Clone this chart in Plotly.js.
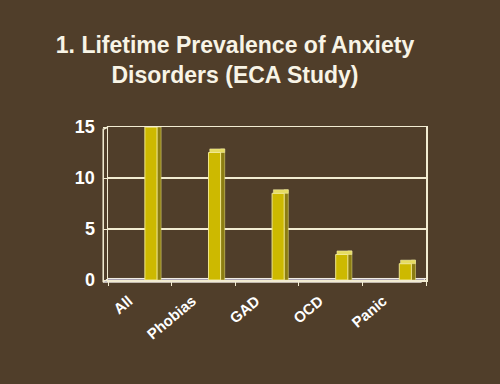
<!DOCTYPE html>
<html>
<head>
<meta charset="utf-8">
<script src="https://cdn.plot.ly/plotly-3.0.1.min.js"></script>
<style>html,body{margin:0;padding:0;background:#503e2a;}#chart{width:500px;height:384px;}</style>
</head>
<body>
<div id="chart"></div>
<script>
const categories = ["All", "Phobias", "GAD", "OCD", "Panic"];
const prevalence = [15.0, 12.5, 8.5, 2.5, 1.6];
const yTicks = [0, 5, 10, 15];

const FONT = "Liberation Sans, Arial, sans-serif";
const CREAM = "#f2ecd2";
const depth = categories.map(() => 0.35);

const frontFace = {
  type: "bar", x: categories, y: prevalence,
  offset: 0.08, width: 0.19,
  marker: {color: "#cdb900", line: {color: "#efe68a", width: 1}},
  hoverinfo: "x+y"
};
const sideFace = {
  type: "bar", x: categories, y: prevalence.map(v => v + 0.35),
  offset: 0.27, width: 0.065,
  marker: {color: "#8c7d12", line: {color: "#efe68a", width: 0.5}},
  hoverinfo: "skip"
};
const topFace = {
  type: "bar", x: categories, y: depth, base: prevalence,
  offset: 0.1, width: 0.235,
  marker: {color: "#e6dc62", line: {color: "#f4eeb0", width: 0.5}},
  hoverinfo: "skip"
};

const layout = {
  width: 500, height: 384,
  paper_bgcolor: "#503e2a", plot_bgcolor: "#503e2a",
  margin: {l: 108, r: 74, t: 127, b: 104},
  showlegend: false, barmode: "overlay",
  font: {family: FONT, color: "#ffffff"},
  title: {
    text: "1. Lifetime Prevalence of Anxiety<br>Disorders (ECA Study)",
    font: {family: FONT, size: 23, color: "#f8f4e6", weight: "bold"},
    xref: "container", x: 0.47, xanchor: "center",
    yref: "container", y: 0.862, yanchor: "top"
  },
  xaxis: {
    type: "category", range: [-0.5, 4.5],
    showgrid: false, showline: true, mirror: true, linecolor: CREAM, linewidth: 1.5,
    ticks: "outside", tickson: "boundaries", ticklen: 4, tickcolor: CREAM,
    tickangle: -40, ticklabelshift: -11, ticklabelstandoff: 5,
    tickfont: {family: FONT, size: 15, color: "#ffffff", weight: "bold"},
    fixedrange: true
  },
  yaxis: {
    range: [0, 15], tickvals: yTicks, ticktext: yTicks.map(String),
    showgrid: true, gridcolor: CREAM, gridwidth: 1.5,
    showline: true, mirror: true, linecolor: CREAM, linewidth: 1.5,
    ticks: "outside", ticklen: 4, tickcolor: CREAM, zeroline: false,
    ticklabelstandoff: 4,
    tickfont: {family: FONT, size: 18, color: "#ffffff", weight: "bold"},
    fixedrange: true
  },
  shapes: [{
    type: "path", xref: "paper", yref: "paper", layer: "below",
    path: "M -0.015,-0.014 L 0.985,-0.014 L 1,0.01 L 0,0.01 Z",
    fillcolor: "#a9a3b3", line: {color: "#f4f0e8", width: 1}
  }, {
    type: "path", xref: "paper", yref: "paper", layer: "above",
    path: "M -0.015,-0.014 L -0.015,0.985 L 0,1",
    line: {color: CREAM, width: 1.5}
  }]
};

Plotly.newPlot("chart", [sideFace, frontFace, topFace], layout, {displayModeBar: false, staticPlot: true});
</script>
</body>
</html>
